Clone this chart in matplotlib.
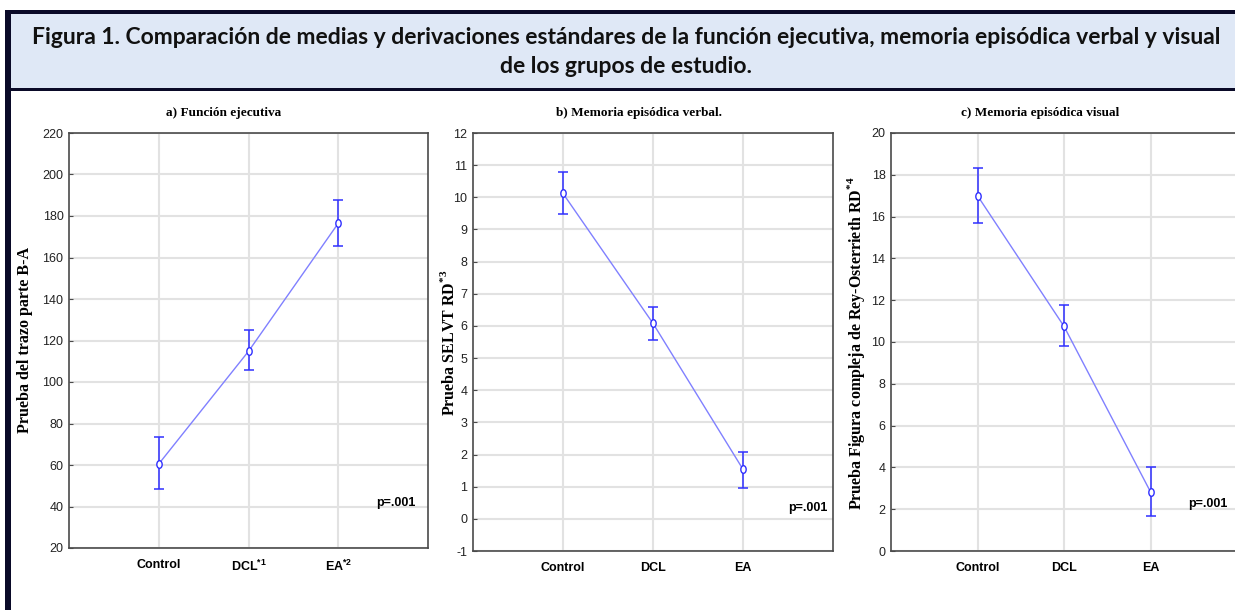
import matplotlib
matplotlib.use('Agg')
import matplotlib.pyplot as plt
from matplotlib.patches import Rectangle
from matplotlib.path import Path
from matplotlib.transforms import Affine2D

plt.rcParams['axes.unicode_minus'] = False

# groups and statistics (mean, lower / upper end of the error bar)
groups = ['Control', 'DCL', 'EA']

marks_a = ['', '*1', '*2']
means_a = [60.5, 114.8, 176.5]
low_a = [48.4, 105.6, 165.7]
high_a = [73.5, 125.1, 187.7]

marks_b = ['', '', '']
means_b = [10.12, 6.08, 1.54]
low_b = [9.48, 5.56, 0.97]
high_b = [10.79, 6.58, 2.09]

marks_c = ['', '', '']
means_c = [17.0, 10.75, 2.83]
low_c = [15.69, 9.79, 1.69]
high_c = [18.31, 11.79, 4.01]

titles = ['a) Función ejecutiva', 'b) Memoria episódica verbal.', 'c) Memoria episódica visual']
ylabels = ['Prueba del trazo parte B-A',
           'Prueba SELVT RD$^{\\mathregular{*3}}$',
           'Prueba Figura compleja de Rey-Osterrieth RD$^{\\mathregular{*4}}$']
yranges = [(20, 220, 20), (-1, 12, 1), (0, 20, 2)]
pvals = ['p=.001', 'p=.001', 'p=.001']

header = ('Figura 1. Comparación de medias y derivaciones estándares de la función ejecutiva, '
          'memoria episódica verbal y visual\nde los grupos de estudio.')

W, H = 1235, 610
fig = plt.figure(figsize=(W / 100, H / 100), dpi=100)


def box(x0, y0, x1, y1):
    # pixel box (top-left origin) -> figure-fraction rect
    return [x0 / W, 1 - y1 / H, (x1 - x0) / W, (y1 - y0) / H]


def frect(x0, y0, x1, y1, color):
    l, b, w, h = box(x0, y0, x1, y1)
    fig.patches.append(Rectangle((l, b), w, h, transform=fig.transFigure,
                                 facecolor=color, edgecolor='none', zorder=0))


# header band with dark frame
frect(11, 14, W, 89, '#dfe8f6')
frect(5, 10, W, 14, '#0a0a28')
frect(11, 88, W, 91, '#0a0a28')
frect(5, 10, 11, H, '#0a0a28')
fig.text(626 / W, 1 - 52 / H, header, ha='center', va='center', fontsize=16.5,
         fontweight='bold', family='Lato', linespacing=1.45, color='#111111')

tick_font = ['Liberation Sans Narrow', 'Liberation Sans']
serif = 'Liberation Serif'

oval = Path.unit_circle().transformed(Affine2D().scale(0.7, 1.0))

panels = [
    (box(69, 133, 428, 548), means_a, low_a, high_a, marks_a, 0.43, (2.64, 41.7), (25, 340)),
    (box(473, 133, 833, 551), means_b, low_b, high_b, marks_b, 0.46, (2.72, 0.34), (449, 343)),
    (box(891, 133, 1237, 551), means_c, low_c, high_c, marks_c, 0.43, (2.66, 2.27), (856, 343)),
]

for i, (rect, m, lo, hi, mk, tx, ppos, ylpos) in enumerate(panels):
    ax = fig.add_axes(rect)
    x = list(range(len(groups)))
    yerr = [[mi - l for mi, l in zip(m, lo)], [h - mi for mi, h in zip(m, hi)]]
    ax.plot(x, m, color='#8080ff', lw=1.0, zorder=3)
    ax.errorbar(x, m, yerr=yerr, fmt='none', ecolor='#3030ff', elinewidth=1.1,
                capsize=3.8, capthick=1.1, zorder=4)
    ax.plot(x, m, ls='none', marker=oval, ms=5.5, mfc='white', mec='#3030ff',
            mew=1.0, zorder=5)

    y0, y1, step = yranges[i]
    ax.set_ylim(y0, y1)
    ax.set_yticks([y0 + k * step for k in range(int(round((y1 - y0) / step)) + 1)])
    ax.set_xlim(-1, 3)
    ax.set_xticks(x)
    ax.set_xticklabels([g if not s else g + '$^{\\mathregular{' + s + '}}$'
                        for g, s in zip(groups, mk)])
    ax.grid(True, color='#e2e2e2', lw=1.5, zorder=0)
    ax.set_axisbelow(True)
    for sp in ax.spines.values():
        sp.set_color('#4a4a4a')
        sp.set_linewidth(1.2)
    ax.tick_params(axis='both', direction='in', length=3, color='#4a4a4a', pad=4)
    ax.tick_params(axis='x', length=0, pad=8)
    for lab in ax.get_yticklabels():
        lab.set_family(tick_font)
        lab.set_fontsize(9)
        lab.set_color('#222222')
    for lab in ax.get_xticklabels():
        lab.set_family(tick_font)
        lab.set_fontsize(9)
        lab.set_fontweight('bold')

    ax.set_title(titles[i], x=tx, pad=12, fontsize=9.5, fontweight='bold', family=serif)
    ax.text(ppos[0], ppos[1], pvals[i], ha='center', va='center', fontsize=9,
            fontweight='bold', family=tick_font)
    fig.text(ylpos[0] / W, 1 - ylpos[1] / H, ylabels[i], rotation=90, ha='center',
             va='center', fontsize=11.5, fontweight='bold', family=serif)

fig.savefig('out.png', dpi=100)
